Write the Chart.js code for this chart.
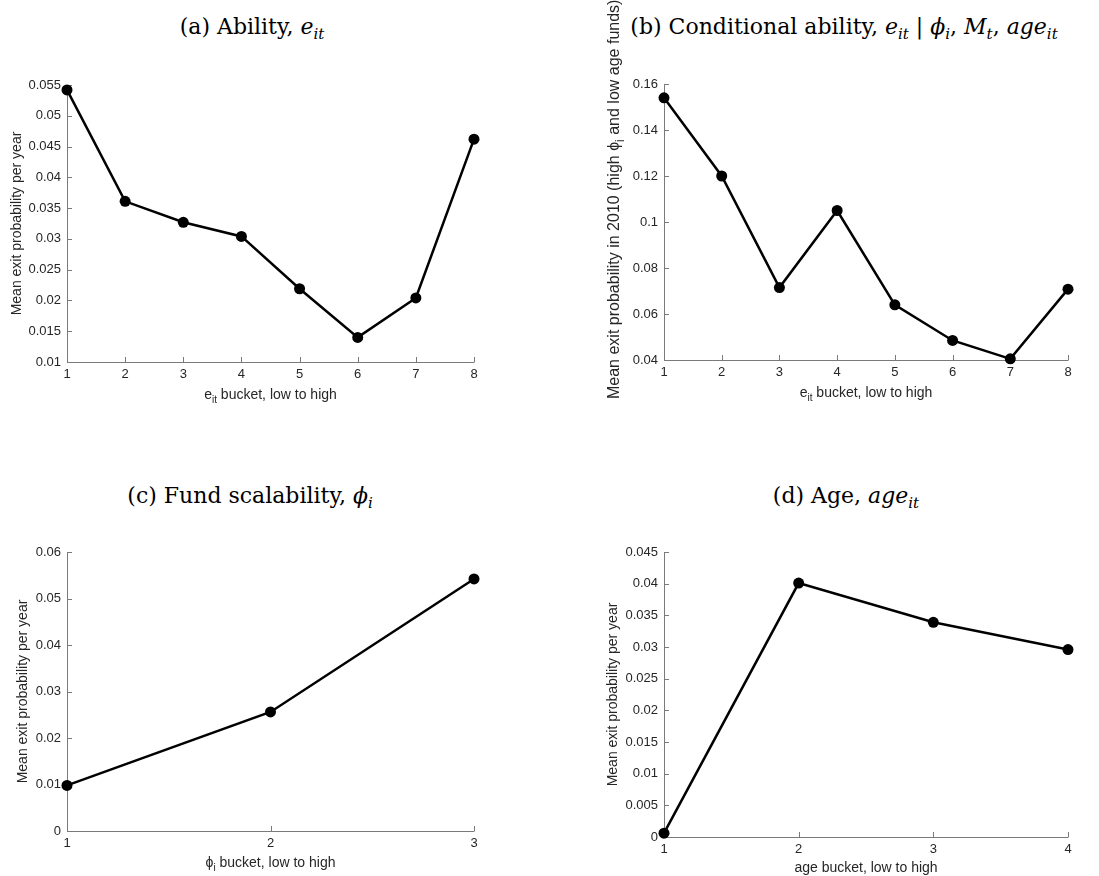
<!DOCTYPE html>
<html>
<head>
<meta charset="utf-8">
<script src="https://cdn.jsdelivr.net/npm/chart.js@4.4.0/dist/chart.umd.min.js"></script>
<style>
  body { margin: 0; background: #fff; }
  #wrap { position: relative; width: 1099px; height: 876px; overflow: hidden; background: #fff; }
  canvas { position: absolute; }
  .ttl { position: absolute; font-family: 'DejaVu Serif', serif; font-size: 22px; color: #000; white-space: nowrap; transform: translate(-50%, -50%); line-height: 1; }
  .ttl sub { font-size: 15px; vertical-align: -5px; line-height: 0; }
</style>
</head>
<body>
<div id="wrap">
  <div class="ttl" style="left:252px;top:27px">(a) Ability, <i>e</i><sub><i>it</i></sub></div>
  <div class="ttl" style="left:844px;top:27px">(b) Conditional ability, <i>e</i><sub><i>it</i></sub> | <i>ϕ</i><sub><i>i</i></sub>, <i>M</i><sub><i>t</i></sub>, <i>age</i><sub><i>it</i></sub></div>
  <div class="ttl" style="left:250px;top:496px">(c) Fund scalability, <i>ϕ</i><sub><i>i</i></sub></div>
  <div class="ttl" style="left:846px;top:496px">(d) Age, <i>age</i><sub><i>it</i></sub></div>
  <canvas id="chartA" width="550" height="438" style="left:0;top:0"></canvas>
  <canvas id="chartB" width="549" height="438" style="left:550px;top:0"></canvas>
  <canvas id="chartC" width="550" height="438" style="left:0;top:438px"></canvas>
  <canvas id="chartD" width="549" height="438" style="left:550px;top:438px"></canvas>
</div>
<script>
// (a) ability buckets
const bucketsA = [1, 2, 3, 4, 5, 6, 7, 8];
const exitA = [0.0542, 0.0361, 0.0327, 0.0304, 0.0219, 0.0140, 0.0204, 0.0462];
const yTicksA = [0.01, 0.015, 0.02, 0.025, 0.03, 0.035, 0.04, 0.045, 0.05, 0.055];

// (b) conditional ability buckets
const bucketsB = [1, 2, 3, 4, 5, 6, 7, 8];
const exitB = [0.154, 0.120, 0.0715, 0.105, 0.064, 0.0485, 0.0405, 0.0708];
const yTicksB = [0.04, 0.06, 0.08, 0.1, 0.12, 0.14, 0.16];

// (c) fund scalability buckets
const bucketsC = [1, 2, 3];
const exitC = [0.0098, 0.0256, 0.0542];
const yTicksC = [0, 0.01, 0.02, 0.03, 0.04, 0.05, 0.06];

// (d) age buckets
const bucketsD = [1, 2, 3, 4];
const exitD = [0.0006, 0.0401, 0.0339, 0.0296];
const yTicksD = [0, 0.005, 0.01, 0.015, 0.02, 0.025, 0.03, 0.035, 0.04, 0.045];

const yTitle = [{ t: 'Mean exit probability per year' }];
const yTitleB = [{ t: 'Mean exit probability in 2010 (high ' }, { t: 'ϕ' }, { t: 'i', sub: true }, { t: ' and low age funds)' }];
const xTitleE = [{ t: 'e' }, { t: 'it', sub: true }, { t: ' bucket, low to high' }];
const xTitlePhi = [{ t: 'ϕ' }, { t: 'i', sub: true }, { t: ' bucket, low to high' }];
const xTitleAge = [{ t: 'age bucket, low to high' }];

const textColor = '#262626';
const sansFont = '"Liberation Sans", Arial, sans-serif';

// axis lines and MATLAB style inward ticks
const matlabAxes = {
    id: 'matlabAxes',
    beforeDatasetsDraw(chart) {
        const { ctx, chartArea: a, scales: { x, y } } = chart;
        ctx.save();
        ctx.strokeStyle = '#7a7a7a';
        ctx.lineWidth = 1;
        ctx.beginPath();
        ctx.moveTo(a.left + 0.5, a.top);
        ctx.lineTo(a.left + 0.5, a.bottom + 0.5);
        ctx.lineTo(a.right + 0.5, a.bottom + 0.5);
        x.ticks.forEach(t => {
            const px = Math.round(x.getPixelForValue(t.value)) + 0.5;
            ctx.moveTo(px, a.bottom);
            ctx.lineTo(px, a.bottom - 5);
        });
        y.ticks.forEach(t => {
            const py = Math.round(y.getPixelForValue(t.value)) + 0.5;
            ctx.moveTo(a.left, py);
            ctx.lineTo(a.left + 5, py);
        });
        ctx.stroke();
        ctx.restore();
    }
};

// axis titles with subscripts; fromStart draws the text starting at (cx, cy)
function drawParts(ctx, parts, cx, cy, rotate, size, fromStart) {
    ctx.save();
    ctx.translate(cx, cy);
    if (rotate) ctx.rotate(-Math.PI / 2);
    ctx.fillStyle = textColor;
    ctx.textBaseline = 'middle';
    ctx.textAlign = 'left';
    const fontOf = p => (p.sub ? Math.round(size * 0.72) : size) + 'px ' + sansFont;
    let total = 0;
    parts.forEach(p => { ctx.font = fontOf(p); total += ctx.measureText(p.t).width; });
    let pos = fromStart ? 0 : -total / 2;
    parts.forEach(p => {
        ctx.font = fontOf(p);
        ctx.fillText(p.t, pos, p.sub ? size * 0.36 : 0);
        pos += ctx.measureText(p.t).width;
    });
    ctx.restore();
}

const axisText = {
    id: 'axisText',
    afterDraw(chart, args, opts) {
        const a = chart.chartArea;
        drawParts(chart.ctx, opts.x, (a.left + a.right) / 2, opts.xY, false, 14, false);
        if (opts.yStart) {
            drawParts(chart.ctx, opts.y, opts.yX, opts.yStart, true, opts.ySize, true);
        } else {
            drawParts(chart.ctx, opts.y, opts.yX, (a.top + a.bottom) / 2, true, opts.ySize, false);
        }
    }
};

function makePanel(id, buckets, values, yTicks, area, xParts, xY, yParts, yX, ySize, yStart) {
    const canvas = document.getElementById(id);
    const W = canvas.width, H = canvas.height;
    return new Chart(canvas, {
        type: 'line',
        data: {
            datasets: [{
                data: buckets.map((b, i) => ({ x: b, y: values[i] })),
                borderColor: '#000',
                backgroundColor: '#000',
                borderWidth: 2.5,
                pointRadius: 5.5,
                pointBorderWidth: 0,
                pointBackgroundColor: '#000',
                tension: 0,
                clip: false
            }]
        },
        options: {
            responsive: false,
            animation: false,
            devicePixelRatio: 1,
            layout: { padding: { left: 0, top: area.top, right: W - area.right, bottom: 0 } },
            scales: {
                x: {
                    type: 'linear',
                    min: buckets[0],
                    max: buckets[buckets.length - 1],
                    afterBuildTicks: s => { s.ticks = buckets.map(v => ({ value: v })); },
                    afterFit: s => { s.height = H - area.bottom; },
                    grid: { display: false, drawTicks: false },
                    border: { display: false },
                    ticks: {
                        color: textColor,
                        font: { family: sansFont, size: 13 },
                        padding: 5,
                        maxRotation: 0,
                        callback: v => String(v)
                    }
                },
                y: {
                    min: yTicks[0],
                    max: yTicks[yTicks.length - 1],
                    afterBuildTicks: s => { s.ticks = yTicks.map(v => ({ value: v })); },
                    afterFit: s => { s.width = area.left; },
                    grid: { display: false, drawTicks: false },
                    border: { display: false },
                    ticks: {
                        color: textColor,
                        font: { family: sansFont, size: 13 },
                        padding: 6,
                        callback: v => String(+v.toFixed(4))
                    }
                }
            },
            plugins: {
                legend: { display: false },
                tooltip: { enabled: false },
                axisText: { x: xParts, xY: xY, y: yParts, yX: yX, ySize: ySize, yStart: yStart }
            }
        },
        plugins: [matlabAxes, axisText]
    });
}

makePanel('chartA', bucketsA, exitA, yTicksA, { left: 67, right: 474, top: 85, bottom: 362 }, xTitleE, 395, yTitle, 17, 14, 0);
makePanel('chartB', bucketsB, exitB, yTicksB, { left: 114, right: 518, top: 84, bottom: 360 }, xTitleE, 393, yTitleB, 65, 16, 399);
makePanel('chartC', bucketsC, exitC, yTicksC, { left: 67, right: 474, top: 114, bottom: 393 }, xTitlePhi, 425, yTitle, 23, 14, 0);
makePanel('chartD', bucketsD, exitD, yTicksD, { left: 114, right: 518, top: 114, bottom: 399 }, xTitleAge, 430, yTitle, 63, 14, 0);
</script>
</body>
</html>
